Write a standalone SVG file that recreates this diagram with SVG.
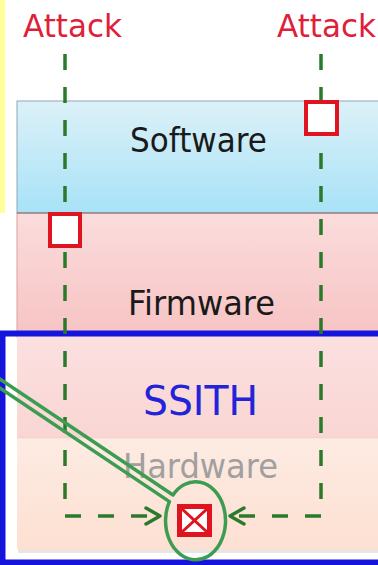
<svg xmlns="http://www.w3.org/2000/svg" width="378" height="565" viewBox="0 0 378 565">
<style>
.lbl{font-family:"DejaVu Sans",sans-serif;text-anchor:middle}
.atk{font-family:"DejaVu Sans",sans-serif;font-size:32px;fill:#e0203a}
.dash{fill:none;stroke:#2b7a2b;stroke-width:3.5;stroke-dasharray:16 17}
.head{fill:none;stroke:#2b7a2b;stroke-width:3.5;stroke-linecap:round;stroke-linejoin:round}
.vbox{fill:#ffffff;stroke:#e0141e;stroke-width:4}
</style>
<defs>
<linearGradient id="gSw" x1="0" y1="0" x2="0" y2="1"><stop offset="0" stop-color="#dcf1f8"/><stop offset="1" stop-color="#a8e2f7"/></linearGradient>
<linearGradient id="gFw" x1="0" y1="0" x2="0" y2="1"><stop offset="0" stop-color="#fbdcdc"/><stop offset="1" stop-color="#f7c3c3"/></linearGradient>
<linearGradient id="gSs" x1="0" y1="0" x2="0" y2="1"><stop offset="0" stop-color="#fbe0e0"/><stop offset="1" stop-color="#f9d6d3"/></linearGradient>
<linearGradient id="gHw" x1="0" y1="0" x2="0" y2="1"><stop offset="0" stop-color="#fdebe3"/><stop offset="1" stop-color="#fde0d2"/></linearGradient>
</defs>
<rect x="0" y="0" width="378" height="565" fill="#ffffff"/>
<rect x="0" y="0" width="5" height="213" fill="#ffff9a"/>

<g id="software">
<rect x="17" y="101" width="370" height="112" fill="url(#gSw)" stroke="#8fa8b4" stroke-width="1"/>
<text class="lbl" x="198.5" y="152" font-size="34" fill="#1a1a1a" textLength="137" lengthAdjust="spacingAndGlyphs">Software</text>
</g>
<g id="firmware">
<rect x="17" y="213" width="370" height="124" fill="url(#gFw)" stroke="#d9a0a0" stroke-width="1"/>
<line x1="17" y1="213" x2="378" y2="213" stroke="#707070" stroke-width="1.2"/>
<text class="lbl" x="201.5" y="315" font-size="34" fill="#1a1a1a" textLength="147" lengthAdjust="spacingAndGlyphs">Firmware</text>
</g>
<g id="ssith-layer">
<rect x="17" y="336" width="370" height="101" fill="url(#gSs)"/>
</g>
<g id="hardware">
<rect x="18" y="549" width="370" height="4" fill="#ece4e0"/>
<rect x="17" y="437" width="370" height="112" fill="url(#gHw)"/>
<line x1="17" y1="437.5" x2="378" y2="437.5" stroke="#f3d2c8" stroke-width="1.5"/>
<text class="lbl" x="200.5" y="478" font-size="34" fill="#a0a0a0" textLength="155" lengthAdjust="spacingAndGlyphs">Hardware</text>
</g>
<g id="ssith">
<rect x="2.5" y="333.5" width="400" height="229" fill="none" stroke="#1414dc" stroke-width="6"/>
<text class="lbl" x="200.5" y="415" font-size="41" fill="#2323d8" textLength="115" lengthAdjust="spacingAndGlyphs">SSITH</text>
</g>

<g id="attack-left">
<text class="atk" x="23" y="37" textLength="99" lengthAdjust="spacingAndGlyphs">Attack</text>
</g>
<g id="attack-right">
<text class="atk" x="277" y="37" textLength="99" lengthAdjust="spacingAndGlyphs">Attack</text>
</g>

<g id="connectors">
<path class="dash" d="M65 54 V516 H156"/>
<polyline class="head" points="146,508 160,516 146,524"/>
<path class="dash" d="M321 54 V516 H236"/>
<polyline class="head" points="244,508 230,516 244,524"/>
<path d="M173 495 L-50 345.5 L-50 354.5 L169.4 501.6 A30 39 0 1 0 173 495 Z" fill="none" stroke="#3c9c52" stroke-width="3.5" stroke-linejoin="round"/>
</g>

<g id="breach-software">
<rect class="vbox" x="306" y="102" width="31" height="32"/>
</g>
<g id="breach-firmware">
<rect class="vbox" x="50" y="214" width="30" height="32"/>
</g>
<g id="blocked">
<rect x="177" y="504" width="35" height="33" fill="#e0141e"/>
<rect x="182" y="509" width="25" height="23" fill="#ffffff"/>
<path d="M182 509 L207 532 M207 509 L182 532" stroke="#e0141e" stroke-width="3"/>
</g>
</svg>
